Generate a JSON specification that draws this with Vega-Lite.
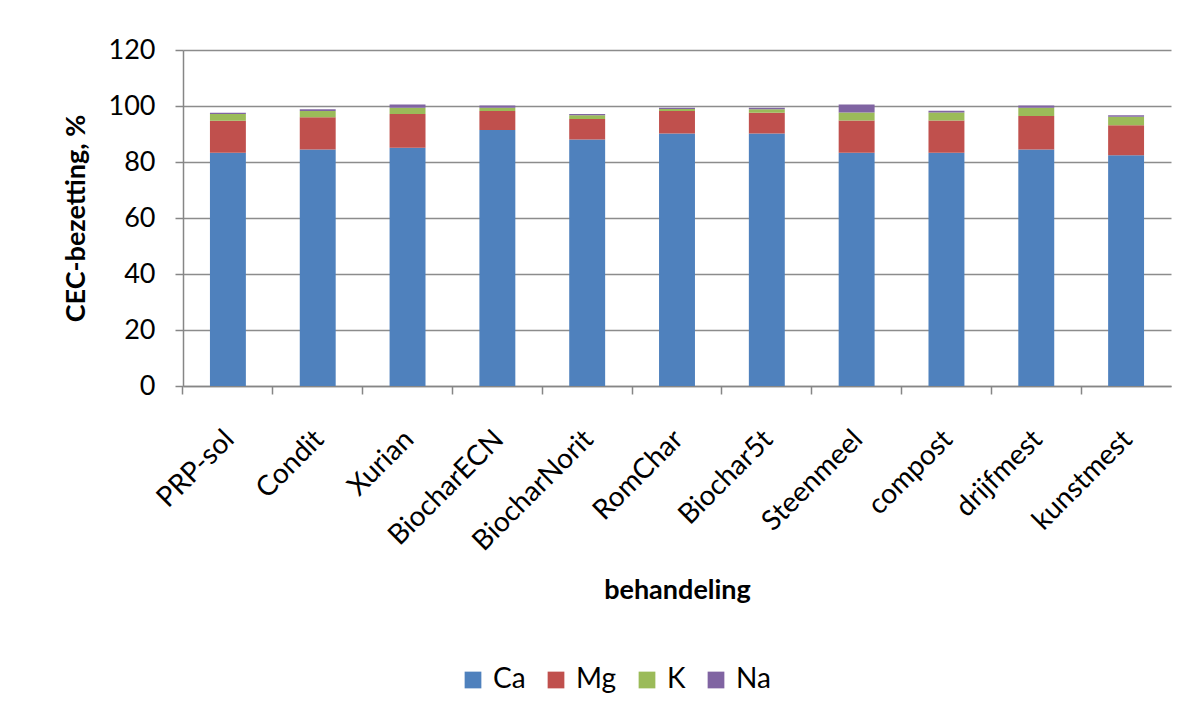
{
  "$schema": "https://vega.github.io/schema/vega-lite/v6.json",
  "width": 988,
  "height": 336,
  "autosize": {"type": "none"},
  "padding": {"left": 183, "top": 50, "right": 21, "bottom": 336},
  "background": "white",
  "data": {
    "values": [
      {"behandeling": "PRP-sol", "ion": "Ca", "o": 1, "v": 83.3},
      {"behandeling": "PRP-sol", "ion": "Mg", "o": 2, "v": 11.4},
      {"behandeling": "PRP-sol", "ion": "K", "o": 3, "v": 2.4},
      {"behandeling": "PRP-sol", "ion": "Na", "o": 4, "v": 0.5},
      {"behandeling": "Condit", "ion": "Ca", "o": 1, "v": 84.5},
      {"behandeling": "Condit", "ion": "Mg", "o": 2, "v": 11.5},
      {"behandeling": "Condit", "ion": "K", "o": 3, "v": 2.2},
      {"behandeling": "Condit", "ion": "Na", "o": 4, "v": 0.6},
      {"behandeling": "Xurian", "ion": "Ca", "o": 1, "v": 85.1},
      {"behandeling": "Xurian", "ion": "Mg", "o": 2, "v": 12.0},
      {"behandeling": "Xurian", "ion": "K", "o": 3, "v": 2.3},
      {"behandeling": "Xurian", "ion": "Na", "o": 4, "v": 1.1},
      {"behandeling": "BiocharECN", "ion": "Ca", "o": 1, "v": 91.4},
      {"behandeling": "BiocharECN", "ion": "Mg", "o": 2, "v": 6.8},
      {"behandeling": "BiocharECN", "ion": "K", "o": 3, "v": 1.2},
      {"behandeling": "BiocharECN", "ion": "Na", "o": 4, "v": 0.8},
      {"behandeling": "BiocharNorit", "ion": "Ca", "o": 1, "v": 88.0},
      {"behandeling": "BiocharNorit", "ion": "Mg", "o": 2, "v": 7.4},
      {"behandeling": "BiocharNorit", "ion": "K", "o": 3, "v": 1.3},
      {"behandeling": "BiocharNorit", "ion": "Na", "o": 4, "v": 0.4},
      {"behandeling": "RomChar", "ion": "Ca", "o": 1, "v": 90.2},
      {"behandeling": "RomChar", "ion": "Mg", "o": 2, "v": 8.0},
      {"behandeling": "RomChar", "ion": "K", "o": 3, "v": 0.7},
      {"behandeling": "RomChar", "ion": "Na", "o": 4, "v": 0.5},
      {"behandeling": "Biochar5t", "ion": "Ca", "o": 1, "v": 90.2},
      {"behandeling": "Biochar5t", "ion": "Mg", "o": 2, "v": 7.4},
      {"behandeling": "Biochar5t", "ion": "K", "o": 3, "v": 1.2},
      {"behandeling": "Biochar5t", "ion": "Na", "o": 4, "v": 0.6},
      {"behandeling": "Steenmeel", "ion": "Ca", "o": 1, "v": 83.3},
      {"behandeling": "Steenmeel", "ion": "Mg", "o": 2, "v": 11.5},
      {"behandeling": "Steenmeel", "ion": "K", "o": 3, "v": 2.9},
      {"behandeling": "Steenmeel", "ion": "Na", "o": 4, "v": 2.8},
      {"behandeling": "compost", "ion": "Ca", "o": 1, "v": 83.3},
      {"behandeling": "compost", "ion": "Mg", "o": 2, "v": 11.5},
      {"behandeling": "compost", "ion": "K", "o": 3, "v": 2.9},
      {"behandeling": "compost", "ion": "Na", "o": 4, "v": 0.6},
      {"behandeling": "drijfmest", "ion": "Ca", "o": 1, "v": 84.5},
      {"behandeling": "drijfmest", "ion": "Mg", "o": 2, "v": 11.9},
      {"behandeling": "drijfmest", "ion": "K", "o": 3, "v": 3.0},
      {"behandeling": "drijfmest", "ion": "Na", "o": 4, "v": 0.8},
      {"behandeling": "kunstmest", "ion": "Ca", "o": 1, "v": 82.4},
      {"behandeling": "kunstmest", "ion": "Mg", "o": 2, "v": 10.7},
      {"behandeling": "kunstmest", "ion": "K", "o": 3, "v": 3.1},
      {"behandeling": "kunstmest", "ion": "Na", "o": 4, "v": 0.5}
    ]
  },
  "mark": {"type": "bar"},
  "encoding": {
    "x": {
      "field": "behandeling",
      "type": "nominal",
      "sort": null,
      "scale": {"paddingInner": 0.6, "paddingOuter": 0.3},
      "axis": {
        "title": "behandeling",
        "labelAngle": -45,
        "labelAlign": "right",
        "labelBaseline": "middle",
        "labelFont": "Lato",
        "labelFontSize": 28,
        "labelColor": "#000000",
        "labelPadding": 41,
        "bandPosition": -0.75,
        "labelOffset": 2,
        "tickSize": 8,
        "tickColor": "#868686",
        "tickWidth": 1.5,
        "domainColor": "#868686",
        "domainWidth": 1.5,
        "titleFont": "Lato",
        "titleFontSize": 27,
        "titleFontWeight": "bold",
        "titleColor": "#000000",
        "titleY": 204,
        "titleBaseline": "middle",
        "grid": false
      }
    },
    "y": {
      "field": "v",
      "type": "quantitative",
      "stack": "zero",
      "scale": {"domain": [0, 120], "nice": false},
      "axis": {
        "title": "CEC-bezetting, %",
        "values": [0, 20, 40, 60, 80, 100, 120],
        "labelFont": "Lato",
        "labelFontSize": 27,
        "labelColor": "#000000",
        "labelPadding": 20,
        "tickSize": 8,
        "tickColor": "#868686",
        "tickWidth": 1.5,
        "domainColor": "#868686",
        "domainWidth": 1.5,
        "grid": true,
        "gridColor": "#8c8c8c",
        "gridWidth": 1.5,
        "titleFont": "Lato",
        "titleFontSize": 27,
        "titleFontWeight": "bold",
        "titleColor": "#000000",
        "titleX": -107,
        "titleY": 168,
        "titleAngle": -90,
        "titleBaseline": "middle",
        "titleAlign": "center"
      }
    },
    "color": {
      "field": "ion",
      "type": "nominal",
      "sort": ["Ca", "Mg", "K", "Na"],
      "scale": {"domain": ["Ca", "Mg", "K", "Na"], "range": ["#4F81BD", "#C0504D", "#9BBB59", "#8064A2"]},
      "legend": {
        "title": null,
        "orient": "none",
        "direction": "horizontal",
        "legendX": 276,
        "legendY": 616,
        "symbolType": "square",
        "symbolSize": 280,
        "symbolStrokeWidth": 0,
        "labelFont": "Lato",
        "labelFontSize": 28,
        "labelColor": "#000000",
        "columnPadding": 16,
        "labelOffset": 6
      }
    },
    "order": {"field": "o", "type": "quantitative", "sort": "ascending"}
  },
  "config": {
    "view": {"stroke": null},
    "axis": {"labelFont": "Lato"}
  }
}
